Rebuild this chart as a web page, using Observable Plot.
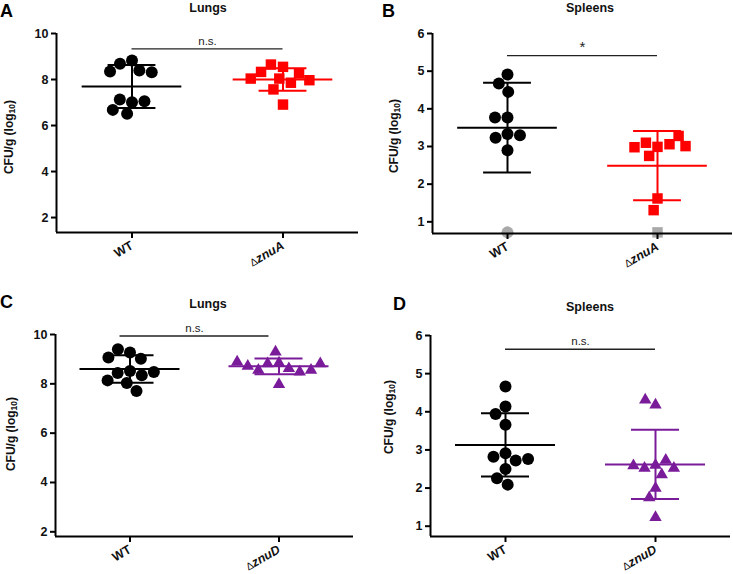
<!DOCTYPE html>
<html><head><meta charset="utf-8">
<script src="https://cdn.jsdelivr.net/npm/d3@7"></script>
<script src="https://cdn.jsdelivr.net/npm/@observablehq/plot@0.6"></script>
<style>
body{margin:0;background:#fff;font-family:"Liberation Sans",Arial,sans-serif;}
#wrap{position:relative;width:733px;height:574px;overflow:hidden;background:#fff;}
.letter{font-weight:bold;font-size:18px;line-height:1;color:#000;}
.title{font-weight:bold;font-size:12.5px;line-height:1;white-space:nowrap;transform:translateX(-50%);color:#111;}
.ylab{font-weight:bold;font-size:12px;line-height:1;white-space:nowrap;transform:translate(-50%,-50%) rotate(-90deg);color:#111;}
.ylab sub{font-size:8.5px;vertical-align:-2px;}
</style></head><body><div id="wrap"></div>
<script>
// ---------- data ----------
const groupsAB = ["WT", "ΔznuA"];
const groupsCD = ["WT", "ΔznuD"];
const yTicksLungs = [2, 4, 6, 8, 10];
const yTicksSpleens = [1, 2, 3, 4, 5, 6];

// A: Lungs, WT vs ΔznuA
const lungsA_WT  = [8.83, 8.68, 8.39, 8.32, 8.35, 7.01, 7.13, 7.06, 6.51, 6.68];
const lungsA_mut = [8.55, 8.65, 8.04, 7.86, 8.26, 8.33, 7.97, 8.04, 7.57, 6.91];
const lungsA_mean = [7.70, 8.00];
const lungsA_sd   = [0.935, 0.49];
const lungsA_sig  = {label: "n.s.", y: 9.33};

// B: Spleens, WT vs ΔznuA (grey = below detection limit)
const spleensB_WT  = [4.91, 4.67, 4.45, 3.77, 3.77, 3.33, 3.23, 3.30, 2.90];
const spleensB_mut = [2.99, 3.10, 3.06, 2.98, 3.28, 3.01, 2.75, 1.62, 1.31];
const spleensB_WT_lod  = [0.72];
const spleensB_mut_lod = [0.72];
const spleensB_mean = [3.50, 2.49];
const spleensB_sd   = [1.19, 0.92];
const spleensB_sig  = {label: "*", y: 5.41};

// C: Lungs, WT vs ΔznuD
const lungsC_WT  = [9.27, 9.40, 9.02, 9.07, 8.52, 8.44, 8.35, 8.48, 8.14, 8.03, 7.71];
const lungsC_mut = [8.85, 8.82, 8.62, 8.55, 9.29, 8.48, 8.55, 8.72, 8.82, 8.89, 7.98];
const lungsC_mean = [8.60, 8.71];
const lungsC_sd   = [0.555, 0.32];
const lungsC_sig  = {label: "n.s.", y: 9.94};

// D: Spleens, WT vs ΔznuD
const spleensD_WT  = [4.66, 4.14, 3.94, 3.66, 2.91, 2.82, 2.72, 2.76, 2.50, 2.26, 2.09];
const spleensD_mut = [4.18, 4.31, 2.60, 2.52, 2.73, 2.52, 2.59, 2.35, 2.00, 1.75, 1.23];
const spleensD_mean = [3.13, 2.62];
const spleensD_sd   = [0.83, 0.91];
const spleensD_sig  = {label: "n.s.", y: 5.64};

// ---------- styles ----------
const BLACK = "#000000", RED = "#ff0000", PURPLE = "#7a1b9a", GREY = "#a9a9a9";
const FONT = "Liberation Sans, Arial, sans-serif";

function panel(cfg) {
  const {groups, values, lod, means, sds, sig, yDomain, yTicks, colors, symbols, radii, pads,
         width, height, m, sigShift = 0} = cfg;
  const fw = (width - m.left - m.right) / 2;
  const stats = groups.map((g, i) => ({g, c: colors[i], m: means[i], lo: means[i] - sds[i], hi: means[i] + sds[i]}));
  const marks = [];
  groups.forEach((g, i) => {
    const pts = values[i].map(v => ({g, v}));
    marks.push(Plot.dot(pts, Plot.dodgeX({anchor: "middle", padding: pads[i]},
      {fx: "g", y: "v", r: radii[i], symbol: symbols[i], fill: colors[i], stroke: "none"})));
    if (lod && lod[i].length) {
      marks.push(Plot.dot(lod[i].map(v => ({g, v})), Plot.dodgeX({anchor: "middle", padding: pads[i]},
        {fx: "g", y: "v", r: radii[i], symbol: symbols[i], fill: GREY, stroke: "none"})));
    }
  });
  marks.push(
    Plot.ruleY(stats, {fx: "g", y: "m", x1: -50, x2: 50, stroke: "c", strokeWidth: 2}),
    Plot.ruleX(stats, {fx: "g", x: 0, y1: "lo", y2: "hi", stroke: "c", strokeWidth: 2}),
    Plot.ruleY(stats, {fx: "g", y: "hi", x1: -24, x2: 24, stroke: "c", strokeWidth: 2}),
    Plot.ruleY(stats, {fx: "g", y: "lo", x1: -24, x2: 24, stroke: "c", strokeWidth: 2})
  );
  marks.push(
    Plot.ruleY([sig], {fx: () => groups[0], y: "y", x1: sigShift, x2: fw / 2, stroke: "#222", strokeWidth: 1.3}),
    Plot.ruleY([sig], {fx: () => groups[1], y: "y", x1: -fw / 2, x2: sigShift, stroke: "#222", strokeWidth: 1.3}),
    Plot.text([sig], {fx: () => groups[0], x: fw / 2 + sigShift, y: "y", text: "label", dy: -4,
      lineAnchor: "bottom", fontSize: sig.label === "*" ? 15 : 11.5, fill: "#222"})
  );
  marks.push(
    Plot.ruleY([yDomain[0]], {stroke: "#000", strokeWidth: 2}),
    Plot.ruleX([{g: groups[0]}], {fx: "g", x: -fw / 2, y1: yDomain[0], y2: yDomain[1], stroke: "#000", strokeWidth: 2}),
    Plot.axisY({ticks: yTicks, tickFormat: d3.format("d"), tickSize: 5, tickPadding: 3, fontSize: 12.5, fontWeight: "bold", label: null, strokeWidth: 2, fill: "#111"}),
    Plot.axisFx({anchor: "bottom", tickSize: 6, tickPadding: 6, tickRotate: -30, fontSize: 12.5, fontWeight: "bold", label: null, strokeWidth: 2, fill: "#111"})
  );
  const svg = Plot.plot({
    width, height,
    marginTop: m.top, marginRight: m.right, marginBottom: m.bottom, marginLeft: m.left,
    style: {fontFamily: FONT, background: "transparent", overflow: "visible"},
    x: {domain: [-fw / 2, fw / 2], axis: null},
    y: {domain: yDomain},
    fx: {domain: groups, padding: 0},
    color: {type: "identity"},
    marks
  });
  svg.querySelectorAll("text").forEach(t => {
    const s = t.textContent;
    if (s.startsWith("Δ") && s.length > 1 && !t.querySelector("tspan")) {
      t.textContent = "";
      const a = document.createElementNS("http://www.w3.org/2000/svg", "tspan");
      a.textContent = "Δ"; a.setAttribute("font-weight", "normal"); a.setAttribute("font-size", "10.5");
      const b = document.createElementNS("http://www.w3.org/2000/svg", "tspan");
      b.textContent = s.slice(1); b.setAttribute("font-style", "italic");
      t.appendChild(a); t.appendChild(b);
    }
  });
  return svg;
}

const wrap = document.getElementById("wrap");
function place(el, left, top) {
  el.style.position = "absolute"; el.style.left = left + "px"; el.style.top = top + "px";
  wrap.appendChild(el);
}
function html(cls, content, left, top) {
  const d = document.createElement("div"); d.className = cls; d.innerHTML = content;
  place(d, left, top);
}

place(panel({groups: groupsAB, values: [lungsA_WT, lungsA_mut], means: lungsA_mean, sds: lungsA_sd, sig: lungsA_sig,
  yDomain: [1.35, 10], yTicks: yTicksLungs, colors: [BLACK, RED], symbols: ["circle", "square"], radii: [6, 5.9], pads: [0.5, 0.5],
  width: 366, height: 287, m: {top: 33, right: 8, bottom: 55, left: 55}}), 0, 0);

place(panel({groups: groupsAB, values: [spleensB_WT, spleensB_mut], lod: [spleensB_WT_lod, spleensB_mut_lod],
  means: spleensB_mean, sds: spleensB_sd, sig: spleensB_sig,
  yDomain: [0.69, 6], yTicks: yTicksSpleens, colors: [BLACK, RED], symbols: ["circle", "square"], radii: [6, 5.9], pads: [0.5, 0.5],
  width: 367, height: 287, m: {top: 33, right: 1, bottom: 54, left: 65}}), 366, 0);

place(panel({groups: groupsCD, values: [lungsC_WT, lungsC_mut], means: lungsC_mean, sds: lungsC_sd, sig: lungsC_sig,
  yDomain: [1.81, 10], yTicks: yTicksLungs, colors: [BLACK, PURPLE], symbols: ["circle", "triangle"], radii: [6, 4.6], pads: [0.5, 2.2],
  width: 366, height: 287, m: {top: 47, right: 13, bottom: 38, left: 55}, sigShift: -10}), 0, 287);

place(panel({groups: groupsCD, values: [spleensD_WT, spleensD_mut], means: spleensD_mean, sds: spleensD_sd, sig: spleensD_sig,
  yDomain: [0.73, 6], yTicks: yTicksSpleens, colors: [BLACK, PURPLE], symbols: ["circle", "triangle"], radii: [6, 4.6], pads: [0.5, 2.2],
  width: 367, height: 287, m: {top: 48, right: 3, bottom: 38, left: 64}}), 366, 287);

html("letter", "A", 0, 2);
html("letter", "B", 382, 2);
html("letter", "C", 0, 293);
html("letter", "D", 393, 295);
html("title", "Lungs", 208, 2);
html("title", "Spleens", 590, 2);
html("title", "Lungs", 208, 298);
html("title", "Spleens", 590, 301);
const ylabText = "CFU/g (log<sub>10</sub>)";
html("ylab", ylabText, 10, 137);
html("ylab", ylabText, 395, 136);
html("ylab", ylabText, 12, 434);
html("ylab", ylabText, 390, 417);
</script></body></html>
